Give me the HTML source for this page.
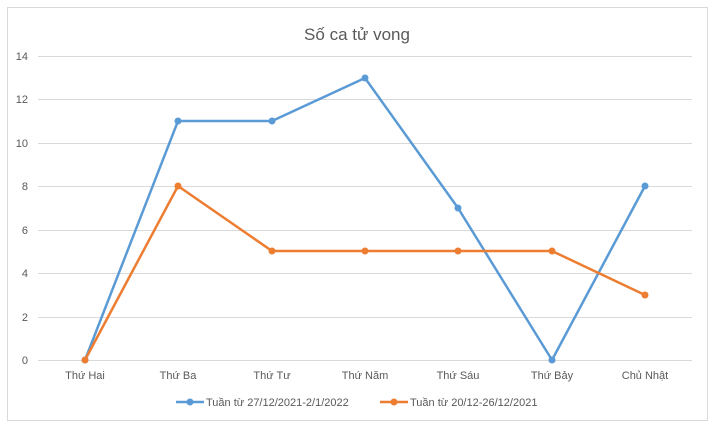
<!DOCTYPE html>
<html><head><meta charset="utf-8"><style>body{margin:0;background:#fff}svg{display:block}</style></head><body>
<svg width="715" height="430" xmlns="http://www.w3.org/2000/svg" font-family="Liberation Sans, sans-serif">
<rect x="7.5" y="7.5" width="700" height="413" fill="#fff" stroke="#d9d9d9"/>
<text x="357" y="40" text-anchor="middle" font-size="17" fill="#595959">Số ca tử vong</text>
<g stroke="#d9d9d9" stroke-width="1">
<line x1="38" x2="692" y1="56.5" y2="56.5"/><line x1="38" x2="692" y1="99.5" y2="99.5"/>
<line x1="38" x2="692" y1="143.5" y2="143.5"/><line x1="38" x2="692" y1="186.5" y2="186.5"/>
<line x1="38" x2="692" y1="230.5" y2="230.5"/><line x1="38" x2="692" y1="273.5" y2="273.5"/>
<line x1="38" x2="692" y1="317.5" y2="317.5"/><line x1="38" x2="692" y1="360.5" y2="360.5"/>
</g>
<g font-size="11" fill="#595959" text-anchor="end">
<text x="28" y="60">14</text><text x="28" y="103">12</text><text x="28" y="147">10</text>
<text x="28" y="190">8</text><text x="28" y="234">6</text><text x="28" y="277">4</text>
<text x="28" y="321">2</text><text x="28" y="364">0</text>
</g>
<g font-size="11" fill="#595959" text-anchor="middle">
<text x="85" y="379">Thứ Hai</text><text x="178" y="379">Thứ Ba</text><text x="272" y="379">Thứ Tư</text>
<text x="365" y="379">Thứ Năm</text><text x="458" y="379">Thứ Sáu</text><text x="552" y="379">Thứ Bảy</text>
<text x="645" y="379">Chủ Nhật</text>
</g>
<polyline fill="none" stroke="#5b9bd5" stroke-width="2.5" stroke-linejoin="round" points="85,360 178,121 272,121 365,78 458,208 552,360 645,186"/>
<polyline fill="none" stroke="#ed7d31" stroke-width="2.5" stroke-linejoin="round" points="85,360 178,186 272,251 365,251 458,251 552,251 645,295"/>
<g fill="#5b9bd5"><circle cx="85" cy="360" r="3.5"/><circle cx="178" cy="121" r="3.5"/><circle cx="272" cy="121" r="3.5"/><circle cx="365" cy="78" r="3.5"/><circle cx="458" cy="208" r="3.5"/><circle cx="552" cy="360" r="3.5"/><circle cx="645" cy="186" r="3.5"/></g>
<g fill="#ed7d31"><circle cx="85" cy="360" r="3.5"/><circle cx="178" cy="186" r="3.5"/><circle cx="272" cy="251" r="3.5"/><circle cx="365" cy="251" r="3.5"/><circle cx="458" cy="251" r="3.5"/><circle cx="552" cy="251" r="3.5"/><circle cx="645" cy="295" r="3.5"/></g>
<line x1="176" x2="204" y1="402" y2="402" stroke="#5b9bd5" stroke-width="2.5"/><circle cx="190" cy="402" r="3.5" fill="#5b9bd5"/>
<text x="206" y="406" font-size="11" fill="#595959">Tuần từ 27/12/2021-2/1/2022</text>
<line x1="380" x2="408" y1="402" y2="402" stroke="#ed7d31" stroke-width="2.5"/><circle cx="394" cy="402" r="3.5" fill="#ed7d31"/>
<text x="410" y="406" font-size="11" fill="#595959">Tuần từ 20/12-26/12/2021</text>
</svg>
</body></html>
